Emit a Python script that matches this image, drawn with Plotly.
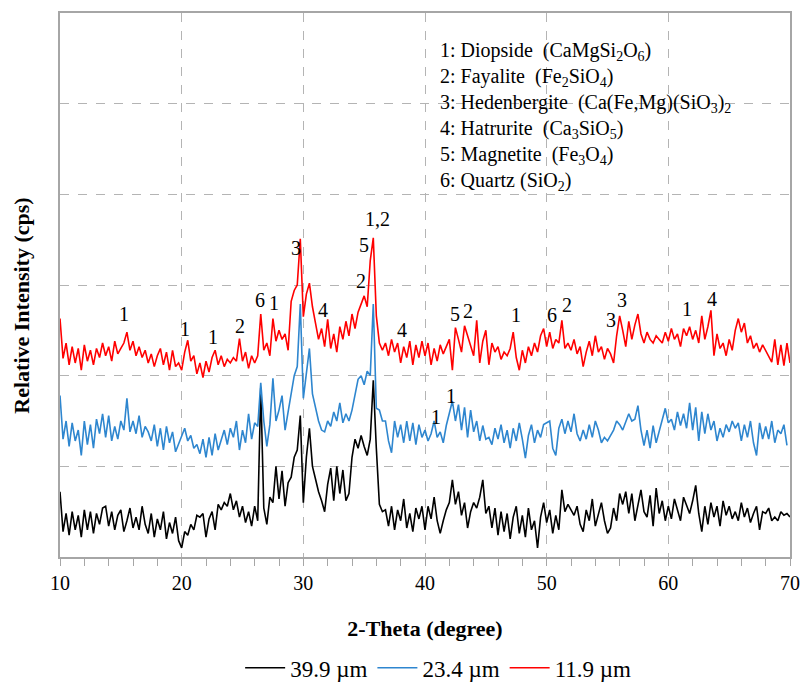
import plotly.graph_objects as go

# ---------------- data ----------------
THETA_START = 10.0   # 2-theta of first sample (degree)
THETA_STEP = 0.25    # sampling step (degree)

series_names = ["39.9 \u00b5m", "23.4 \u00b5m", "11.9 \u00b5m"]
series_colors = ["#000000", "#2e86cf", "#ff0000"]

int_39_9 = [
    72, 28, 48, 24, 50, 30, 46, 22,
    52, 30, 50, 26, 48, 36, 54, 56,
    34, 50, 30, 46, 52, 28, 40, 54,
    32, 44, 30, 56, 36, 26, 48, 22,
    42, 30, 50, 20, 38, 26, 44, 18,
    10, 28, 24, 36, 30, 46, 44, 48,
    22, 42, 50, 30, 58, 52, 60, 56,
    70, 52, 62, 44, 56, 38, 50, 34,
    56, 40, 187, 54, 36, 66, 60, 100,
    64, 95, 56, 82, 88, 110, 118, 156,
    60, 110, 142, 100, 86, 72, 62, 50,
    80, 98, 62, 100, 70, 96, 62, 70,
    110, 130, 120, 134, 122, 112, 130, 195,
    120, 58, 50, 52, 34, 56, 30, 52,
    40, 64, 32, 48, 28, 54, 42, 56,
    30, 56, 42, 66, 40, 26, 40, 52,
    60, 85, 58, 72, 46, 60, 32, 50,
    60, 54, 66, 85, 48, 56, 32, 54,
    24, 50, 28, 48, 20, 44, 56, 26,
    46, 22, 54, 30, 40, 10, 44, 60,
    38, 52, 26, 46, 30, 74, 50, 58,
    52, 46, 56, 36, 28, 52, 40, 64,
    34, 48, 60, 40, 26, 32, 54, 40,
    70, 58, 72, 48, 70, 40, 56, 74,
    50, 44, 68, 34, 76, 48, 62, 40,
    56, 42, 64, 52, 40, 66, 56, 48,
    62, 79, 48, 28, 56, 36, 60, 44,
    56, 34, 62, 46, 56, 42, 50, 40,
    60, 44, 54, 38, 48, 56, 30, 50,
    48, 54, 40, 44, 40, 50, 46, 48,
    44,
]

int_23_4 = [
    178, 130, 150, 122, 148, 128, 140, 112,
    150, 124, 146, 120, 152, 136, 158, 132,
    156, 128, 144, 130, 150, 140, 175, 138,
    150, 136, 156, 132, 144, 138, 128, 146,
    122, 142, 118, 144, 126, 138, 116, 124,
    132, 142, 128, 134, 120, 124, 114, 130,
    110, 132, 112, 136, 118, 128, 140, 124,
    142, 132, 150, 118, 140, 126, 158, 130,
    148, 144, 192, 150, 122, 146, 197, 150,
    162, 178, 140, 160, 180, 200, 210, 279,
    175, 200, 230, 180, 165, 150, 140, 138,
    150, 144, 160, 150, 170, 148, 158, 150,
    162, 180, 196, 200, 190, 205, 200, 279,
    164, 162, 150, 150, 128, 115, 150, 132,
    146, 126, 150, 128, 148, 124, 146, 132,
    140, 128, 136, 150, 132, 138, 126, 145,
    160, 172, 150, 168, 140, 165, 132, 162,
    138, 150, 128, 145, 130, 132, 124, 142,
    130, 146, 126, 140, 120, 142, 128, 148,
    130, 109, 134, 146, 126, 140, 132, 146,
    148, 150, 120, 112, 142, 152, 136, 150,
    138, 158, 136, 128, 140, 130, 146, 132,
    150, 140, 126, 132, 128, 134, 140, 150,
    146, 140, 148, 158, 150, 152, 167, 140,
    123, 140, 120, 145, 126, 138, 150, 164,
    148, 152, 140, 160, 145, 158, 142, 170,
    140, 165, 128, 160, 136, 158, 140, 150,
    128, 142, 132, 146, 138, 150, 142, 148,
    128, 146, 132, 150, 126, 112, 148, 130,
    144, 130, 150, 126, 140, 136, 146, 123,
]

int_11_9 = [
    263, 219, 236, 212, 232, 214, 230, 206,
    234, 216, 228, 212, 230, 220, 236, 222,
    232, 216, 238, 224, 230, 236, 248, 228,
    238, 222, 232, 220, 228, 214, 224, 210,
    222, 230, 212, 226, 206, 228, 210, 214,
    206, 226, 239, 216, 222, 202, 214, 198,
    216, 204, 220, 228, 212, 222, 210, 218,
    214, 220, 216, 241, 216, 226, 208, 222,
    214, 222, 268, 228, 236, 222, 263, 238,
    250, 240, 246, 228, 282, 294, 300, 351,
    265, 290, 302, 276, 258, 240, 252, 232,
    262, 230, 246, 226, 254, 240, 260, 244,
    268, 252, 270, 280, 288, 276, 327, 352,
    266, 236, 228, 236, 222, 240, 226, 236,
    214, 232, 220, 238, 212, 234, 220, 238,
    222, 236, 212, 230, 216, 234, 224, 232,
    240, 206, 253, 240, 226, 255, 244, 232,
    222, 261, 214, 238, 250, 212, 236, 226,
    232, 218, 226, 222, 230, 248, 220, 206,
    228, 214, 232, 222, 236, 226, 244, 252,
    232, 248, 230, 240, 236, 261, 230, 236,
    228, 240, 224, 232, 210, 226, 238, 222,
    244, 226, 232, 218, 230, 224, 214, 244,
    266, 250, 232, 260, 240, 256, 268, 246,
    236, 248, 240, 236, 244, 240, 236, 248,
    238, 252, 240, 246, 232, 252, 244, 254,
    240, 250, 236, 266, 240, 254, 272, 222,
    246, 230, 236, 222, 240, 228, 250, 263,
    248, 258, 236, 244, 230, 236, 226, 234,
    228, 222, 215, 240, 212, 234, 211, 236,
    214,
]

# peak identification labels: text, 2-theta, intensity
peak_text = ["1", "1", "1", "2", "6", "1", "3", "4", "2", "5", "1,2", "4",
             "5", "2", "1", "6", "2", "3", "3", "1", "4", "1", "1"]
peak_theta = [15.3, 20.3, 22.6, 24.8, 26.4, 27.6, 29.4, 31.6, 34.7, 35.0, 36.1, 38.1,
              42.5, 43.5, 47.5, 50.4, 51.7, 55.3, 56.2, 61.5, 63.6, 40.9, 42.1]
peak_int = [268, 252, 243, 255, 283, 280, 341, 272, 304, 344, 373, 250,
            268, 271, 267, 267, 278, 261, 284, 273, 285, 154, 178]

phase_lines = [
    "1: Diopside  (CaMgSi<sub>2</sub>O<sub>6</sub>)",
    "2: Fayalite  (Fe<sub>2</sub>SiO<sub>4</sub>)",
    "3: Hedenbergite  (Ca(Fe,Mg)(SiO<sub>3</sub>)<sub>2</sub>",
    "4: Hatrurite  (Ca<sub>3</sub>SiO<sub>5</sub>)",
    "5: Magnetite  (Fe<sub>3</sub>O<sub>4</sub>)",
    "6: Quartz (SiO<sub>2</sub>)",
]

x_tick_vals = [10, 20, 30, 40, 50, 60, 70]
x_tick_text = ["10", "20", "30", "40", "50", "60", "70"]

if len(int_39_9) != 241 or len(int_23_4) != 240 or len(int_11_9) != 241:
    raise SystemExit("length mismatch %d %d %d" % (len(int_39_9), len(int_23_4), len(int_11_9)))

# ---------------- figure ----------------
FONT = "Liberation Serif"
GRID = "#b4b4b4"
FRAME = "#a6a6a6"

fig = go.Figure()
for name, color, vals in zip(series_names, series_colors, [int_39_9, int_23_4, int_11_9]):
    fig.add_trace(go.Scatter(
        x0=THETA_START, dx=THETA_STEP, y=vals, mode="lines", name=name,
        line=dict(color=color, width=1.6), hoverinfo="skip"))

for t, xv, yv in zip(peak_text, peak_theta, peak_int):
    fig.add_annotation(x=xv, y=yv, xref="x", yref="y", text=t, showarrow=False,
                       font=dict(family=FONT, size=20, color="#000000"),
                       xanchor="center", yanchor="middle")

fig.add_annotation(x=0.518, y=0.955, xref="paper", yref="paper",
                   text="<br>".join(phase_lines), showarrow=False, align="left",
                   xanchor="left", yanchor="top",
                   font=dict(family=FONT, size=20, color="#000000"))

# y-axis title (placed as rotated text so it sits where the reference has it)
fig.add_annotation(x=-0.052, y=0.462, xref="paper", yref="paper",
                   text="<b>Relative Intensity (cps)</b>", textangle=-90, showarrow=False,
                   xanchor="center", yanchor="middle",
                   font=dict(family=FONT, size=22, color="#000000"))

fig.update_layout(
    template="none",
    width=803, height=687,
    margin=dict(l=60, r=13, t=13, b=130, autoexpand=False),
    paper_bgcolor="white", plot_bgcolor="white",
    font=dict(family=FONT, size=20, color="#000000"),
    showlegend=True,
    legend=dict(orientation="h", x=0.518, y=0.028, xref="paper", yref="container",
                xanchor="center", yanchor="middle",
                font=dict(family=FONT, size=23), itemwidth=40, tracegroupgap=0,
                bgcolor="rgba(0,0,0,0)", borderwidth=0),
    xaxis=dict(
        range=[10, 70], tickmode="array", tickvals=x_tick_vals, ticktext=x_tick_text,
        ticks="outside", ticklen=7, tickcolor=FRAME, tickwidth=1,
        minor=dict(dtick=2, ticks="outside", ticklen=7, tickcolor=FRAME, showgrid=False),
        showline=True, linecolor=FRAME, linewidth=1.5, mirror=True,
        showgrid=True, gridcolor=GRID, griddash="dash", gridwidth=1,
        zeroline=False, automargin=False, tickfont=dict(family=FONT, size=20),
        title=dict(text="<b>2-Theta (degree)</b>", font=dict(family=FONT, size=22), standoff=28),
    ),
    yaxis=dict(
        range=[0, 600], dtick=100, showticklabels=False, ticks="",
        showline=True, linecolor=FRAME, linewidth=1.5, mirror=True,
        showgrid=True, gridcolor=GRID, griddash="dash", gridwidth=1,
        zeroline=False, automargin=False,
    ),
)

fig.write_html("out.html")
